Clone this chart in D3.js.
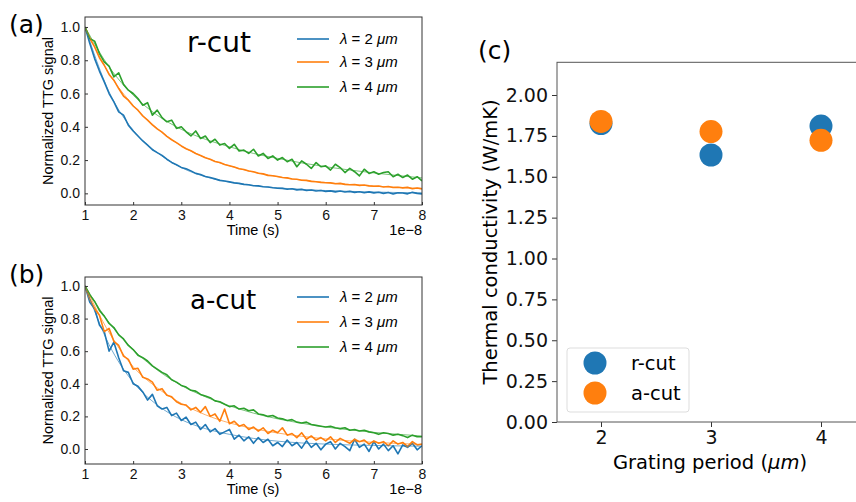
<!DOCTYPE html>
<html>
<head>
<meta charset="utf-8">
<script src="https://cdn.jsdelivr.net/npm/d3@7"></script>
<style>
  body { margin: 0; background: #fff; }
  svg { display: block; }
</style>
</head>
<body>
<svg id="chart" width="856" height="502"></svg>
<script>
// sampling grid of the traces (x 1e-8 s)
const times = d3.range(71).map((i) => +(1 + i * 0.1).toFixed(1));
const fitTimes = d3.range(15).map((i) => 1 + i * 0.5);

// (a) r-cut traces
const aBlue = [
  1.00, 0.90, 0.81, 0.735, 0.67, 0.60, 0.55, 0.49, 0.47, 0.41,
  0.375, 0.345, 0.315, 0.29, 0.262, 0.245, 0.228, 0.205, 0.186, 0.172,
  0.156, 0.148, 0.135, 0.12, 0.113, 0.101, 0.095, 0.087, 0.078, 0.074,
  0.069, 0.063, 0.06, 0.054, 0.052, 0.046, 0.045, 0.04, 0.038, 0.034,
  0.031, 0.03, 0.025, 0.028, 0.021, 0.024, 0.017, 0.02, 0.014, 0.017,
  0.012, 0.015, 0.009, 0.014, 0.008, 0.012, 0.006, 0.01, 0.004, 0.009,
  0.003, 0.007, 0.0, 0.005, -0.004, 0.004, 0.002, -0.003, 0.006, 0.0,
  -0.003
];
const aOrange = [
  1.00, 0.93, 0.88, 0.815, 0.77, 0.715, 0.68, 0.63, 0.585, 0.56,
  0.525, 0.50, 0.465, 0.44, 0.412, 0.388, 0.368, 0.342, 0.322, 0.305,
  0.285, 0.268, 0.256, 0.24, 0.228, 0.214, 0.205, 0.192, 0.185, 0.173,
  0.166, 0.158, 0.148, 0.143, 0.134, 0.13, 0.121, 0.117, 0.108, 0.106,
  0.101, 0.095, 0.093, 0.086, 0.085, 0.079, 0.078, 0.072, 0.07, 0.066,
  0.064, 0.063, 0.058, 0.06, 0.054, 0.052, 0.053, 0.048, 0.05, 0.045,
  0.043, 0.044, 0.038, 0.041, 0.035, 0.037, 0.033, 0.036, 0.028, 0.032,
  0.027
];
const aGreen = [
  1.00, 0.93, 0.915, 0.84, 0.79, 0.765, 0.70, 0.725, 0.655, 0.62,
  0.60, 0.57, 0.53, 0.545, 0.47, 0.50, 0.455, 0.43, 0.44, 0.39,
  0.40, 0.37, 0.345, 0.375, 0.33, 0.345, 0.305, 0.325, 0.29, 0.30,
  0.27, 0.295, 0.255, 0.26, 0.24, 0.265, 0.225, 0.24, 0.21, 0.225,
  0.20, 0.215, 0.19, 0.205, 0.16, 0.195, 0.175, 0.15, 0.185, 0.16,
  0.165, 0.14, 0.175, 0.155, 0.125, 0.15, 0.13, 0.105, 0.145, 0.12,
  0.13, 0.115, 0.125, 0.13, 0.10, 0.115, 0.095, 0.11, 0.085, 0.10,
  0.075
];
const aFitBlue = [1.0, 0.61, 0.38, 0.245, 0.155, 0.10, 0.068, 0.047, 0.033, 0.024, 0.017, 0.012, 0.008, 0.005, 0.003];
const aFitOrange = [1.0, 0.72, 0.53, 0.39, 0.285, 0.215, 0.165, 0.128, 0.10, 0.08, 0.065, 0.053, 0.044, 0.036, 0.03];
const aFitGreen = [1.0, 0.76, 0.59, 0.47, 0.385, 0.325, 0.28, 0.24, 0.21, 0.183, 0.16, 0.14, 0.123, 0.107, 0.093];

// (b) a-cut traces
const bBlue = [
  1.00, 0.90, 0.86, 0.76, 0.72, 0.60, 0.655, 0.56, 0.48, 0.47,
  0.40, 0.385, 0.35, 0.30, 0.335, 0.265, 0.245, 0.255, 0.205, 0.22,
  0.175, 0.195, 0.15, 0.165, 0.12, 0.15, 0.105, 0.125, 0.09, 0.105,
  0.12, 0.06, 0.085, 0.05, 0.075, 0.035, 0.07, 0.04, 0.06, 0.02,
  0.04, 0.015, 0.055, 0.02, 0.04, 0.005, 0.05, 0.01, 0.035, -0.005,
  0.03, 0.045, 0.0, 0.035, 0.015, -0.01, 0.06, 0.01, 0.03, -0.015,
  0.045, 0.0, 0.03, -0.01, 0.02, -0.03, 0.025, 0.01, 0.035, -0.005,
  0.02
];
const bOrange = [
  1.00, 0.92, 0.86, 0.82, 0.72, 0.74, 0.66, 0.635, 0.57, 0.55,
  0.49, 0.495, 0.44, 0.43, 0.41, 0.36, 0.37, 0.33, 0.32, 0.29,
  0.275, 0.27, 0.24, 0.255, 0.225, 0.26, 0.2, 0.215, 0.17, 0.245,
  0.155, 0.17, 0.14, 0.15, 0.12, 0.135, 0.11, 0.13, 0.095, 0.115,
  0.1, 0.13, 0.085, 0.095, 0.07, 0.1, 0.06, 0.08, 0.055, 0.07,
  0.05, 0.075, 0.04, 0.065, 0.05, 0.035, 0.06, 0.045, 0.055, 0.03,
  0.05, 0.035, 0.045, 0.02, 0.05, 0.03, 0.04, 0.015, 0.045, 0.025,
  0.03
];
const bGreen = [
  1.00, 0.945, 0.905, 0.85, 0.815, 0.77, 0.745, 0.70, 0.675, 0.635,
  0.61, 0.575, 0.56, 0.54, 0.51, 0.49, 0.47, 0.455, 0.425, 0.41,
  0.39, 0.38, 0.36, 0.355, 0.335, 0.325, 0.315, 0.295, 0.29, 0.275,
  0.26, 0.265, 0.245, 0.25, 0.235, 0.24, 0.215, 0.21, 0.2, 0.205,
  0.19, 0.185, 0.175, 0.18, 0.165, 0.16, 0.165, 0.15, 0.145, 0.14,
  0.135, 0.14, 0.13, 0.125, 0.13, 0.115, 0.12, 0.11, 0.115, 0.105,
  0.1, 0.09, 0.1, 0.095, 0.085, 0.09, 0.082, 0.07, 0.085, 0.075,
  0.075
];
const bFitBlue = [1.0, 0.64, 0.41, 0.27, 0.18, 0.125, 0.09, 0.065, 0.048, 0.037, 0.03, 0.025, 0.022, 0.019, 0.017];
const bFitOrange = [1.0, 0.715, 0.505, 0.375, 0.28, 0.21, 0.16, 0.125, 0.098, 0.078, 0.062, 0.05, 0.041, 0.034, 0.028];
const bFitGreen = [1.0, 0.775, 0.61, 0.485, 0.39, 0.32, 0.265, 0.22, 0.185, 0.158, 0.135, 0.117, 0.102, 0.09, 0.08];

const wavelengths = ['2', '3', '4'];
const colors = ['#1f77b4', '#ff7f0e', '#2ca02c'];

// (c) thermal conductivity
const periods = [2, 3, 4];
const kappaR = [1.825, 1.633, 1.81];
const kappaA = [1.838, 1.776, 1.723];

const svg = d3.select('#chart');
const SANS = 'Liberation Sans, Arial, sans-serif';
const DV = 'DejaVu Sans, sans-serif';

function decayPanel(cfg) {
  const x = d3.scaleLinear().domain([1, 8]).range([85, 422]);
  const y = d3.scaleLinear().domain(cfg.yDomain).range([cfg.bottom, cfg.top]);
  const g = svg.append('g');

  const clipId = 'clip-' + cfg.id;
  g.append('clipPath').attr('id', clipId)
    .append('rect')
    .attr('x', 85).attr('y', cfg.top)
    .attr('width', 337).attr('height', cfg.bottom - cfg.top);

  const plot = g.append('g').attr('clip-path', `url(#${clipId})`);
  const dataLine = d3.line().x((d, i) => x(times[i])).y((d) => y(d));
  const fitLine = d3.line()
    .x((d, i) => x(fitTimes[i])).y((d) => y(d))
    .curve(d3.curveMonotoneX);

  cfg.series.forEach((s, k) => {
    plot.append('path')
      .attr('d', dataLine(s.data))
      .attr('fill', 'none')
      .attr('stroke', colors[k])
      .attr('stroke-width', 1.6)
      .attr('stroke-linejoin', 'round');
  });
  cfg.series.forEach((s, k) => {
    plot.append('path')
      .attr('d', fitLine(s.fit))
      .attr('fill', 'none')
      .attr('stroke', colors[k])
      .attr('stroke-opacity', 0.7)
      .attr('stroke-width', 0.9);
  });

  // axes, ticks pointing in
  const yAxis = g.append('g')
    .attr('transform', 'translate(85,0)')
    .call(d3.axisLeft(y).tickValues([0, 0.2, 0.4, 0.6, 0.8, 1.0])
      .tickFormat(d3.format('.1f')).tickSize(-3).tickPadding(5));
  const xAxis = g.append('g')
    .attr('transform', `translate(0,${cfg.bottom})`)
    .call(d3.axisBottom(x).tickValues(d3.range(1, 9))
      .tickFormat(d3.format('d')).tickSize(-3).tickPadding(5));
  [yAxis, xAxis].forEach((a) => {
    a.select('.domain').remove();
    a.selectAll('line').attr('stroke', '#333');
    a.selectAll('text').attr('font-family', SANS).attr('font-size', 14)
      .attr('fill', '#111');
  });

  g.append('rect')
    .attr('x', 85).attr('y', cfg.top)
    .attr('width', 337).attr('height', cfg.bottom - cfg.top)
    .attr('fill', 'none').attr('stroke', '#333').attr('stroke-width', 1);

  g.append('text')
    .attr('transform', `translate(53,${(cfg.top + cfg.bottom) / 2}) rotate(-90)`)
    .attr('text-anchor', 'middle')
    .attr('font-family', SANS).attr('font-size', 14.5)
    .text('Normalized TTG signal');
  g.append('text')
    .attr('x', 253).attr('y', cfg.bottom + 30)
    .attr('text-anchor', 'middle')
    .attr('font-family', SANS).attr('font-size', 14.5)
    .text('Time (s)');
  g.append('text')
    .attr('x', 422).attr('y', cfg.bottom + 30)
    .attr('text-anchor', 'end')
    .attr('font-family', SANS).attr('font-size', 14.5)
    .text('1e\u22128');

  g.append('text')
    .attr('x', 9).attr('y', cfg.labelY)
    .attr('font-family', DV).attr('font-size', 25)
    .text(cfg.panel);
  g.append('text')
    .attr('x', cfg.titleX).attr('y', cfg.titleY)
    .attr('font-family', DV).attr('font-size', cfg.titleSize)
    .text(cfg.title);

  // legend, no frame
  cfg.legendY.forEach((ly, k) => {
    g.append('line')
      .attr('x1', 297).attr('x2', 329).attr('y1', ly).attr('y2', ly)
      .attr('stroke', colors[k]).attr('stroke-width', 1.6);
    const t = g.append('text')
      .attr('x', 340).attr('y', ly + 5)
      .attr('font-family', SANS).attr('font-size', 15);
    t.append('tspan').attr('font-style', 'italic').text('\u03bb');
    t.append('tspan').text(' = ' + wavelengths[k] + ' ');
    t.append('tspan').attr('font-style', 'italic').text('\u03bcm');
  });
}

decayPanel({
  id: 'a', top: 17, bottom: 205, yDomain: [-0.07, 1.06],
  series: [
    { data: aBlue, fit: aFitBlue },
    { data: aOrange, fit: aFitOrange },
    { data: aGreen, fit: aFitGreen }
  ],
  panel: '(a)', labelY: 33,
  title: 'r-cut', titleX: 187, titleY: 52, titleSize: 28,
  legendY: [39, 62, 87]
});

decayPanel({
  id: 'b', top: 277, bottom: 464, yDomain: [-0.092, 1.055],
  series: [
    { data: bBlue, fit: bFitBlue },
    { data: bOrange, fit: bFitOrange },
    { data: bGreen, fit: bFitGreen }
  ],
  panel: '(b)', labelY: 283,
  title: 'a-cut', titleX: 190, titleY: 309, titleSize: 26,
  legendY: [297, 322, 347]
});

// panel (c)
const xc = d3.scaleLinear().domain([1.6, 4.4]).range([557, 865]);
const yc = d3.scaleLinear().domain([0, 2.2]).range([422, 62.3]);
const gc = svg.append('g');

const ycAxis = gc.append('g')
  .attr('transform', 'translate(557,0)')
  .call(d3.axisLeft(yc).tickValues(d3.range(0, 2.01, 0.25))
    .tickFormat(d3.format('.2f')).tickSize(5).tickPadding(4));
const xcAxis = gc.append('g')
  .attr('transform', 'translate(0,422)')
  .call(d3.axisBottom(xc).tickValues(periods)
    .tickFormat(d3.format('d')).tickSize(5).tickPadding(4));
[ycAxis, xcAxis].forEach((a) => {
  a.select('.domain').remove();
  a.selectAll('line').attr('stroke', '#333').attr('stroke-width', 1);
  a.selectAll('text').attr('font-family', DV).attr('font-size', 19)
    .attr('fill', '#111');
});

gc.append('rect')
  .attr('x', 557).attr('y', 62.3)
  .attr('width', 308).attr('height', 422 - 62.3)
  .attr('fill', 'none').attr('stroke', '#555').attr('stroke-width', 1);

gc.selectAll('circle.r')
  .data(periods)
  .join('circle')
  .attr('class', 'r')
  .attr('cx', (d) => xc(d))
  .attr('cy', (d, i) => yc(kappaR[i]))
  .attr('r', 11.5)
  .attr('fill', colors[0]);
gc.selectAll('circle.a')
  .data(periods)
  .join('circle')
  .attr('class', 'a')
  .attr('cx', (d) => xc(d))
  .attr('cy', (d, i) => yc(kappaA[i]))
  .attr('r', 11.5)
  .attr('fill', colors[1]);

gc.append('text')
  .attr('transform', 'translate(497,242) rotate(-90)')
  .attr('text-anchor', 'middle')
  .attr('font-family', DV).attr('font-size', 19.5)
  .text('Thermal conductivity (W/mK)');
const xl = gc.append('text')
  .attr('x', 710).attr('y', 469)
  .attr('text-anchor', 'middle')
  .attr('font-family', DV).attr('font-size', 19.5);
xl.append('tspan').text('Grating period (');
xl.append('tspan').attr('font-style', 'italic').text('\u03bcm');
xl.append('tspan').text(')');

gc.append('text')
  .attr('x', 478).attr('y', 59)
  .attr('font-family', DV).attr('font-size', 25)
  .text('(c)');

// legend
const lg = gc.append('g');
lg.append('rect')
  .attr('x', 567).attr('y', 348).attr('width', 122).attr('height', 64)
  .attr('rx', 3)
  .attr('fill', '#fff').attr('fill-opacity', 0.8)
  .attr('stroke', '#ddd').attr('stroke-width', 1);
['r-cut', 'a-cut'].forEach((name, k) => {
  const cy = 363 + k * 30;
  lg.append('circle')
    .attr('cx', 595).attr('cy', cy).attr('r', 11.5)
    .attr('fill', colors[k]);
  lg.append('text')
    .attr('x', 631).attr('y', cy + 7)
    .attr('font-family', DV).attr('font-size', 19.5)
    .text(name);
});
</script>
</body>
</html>
